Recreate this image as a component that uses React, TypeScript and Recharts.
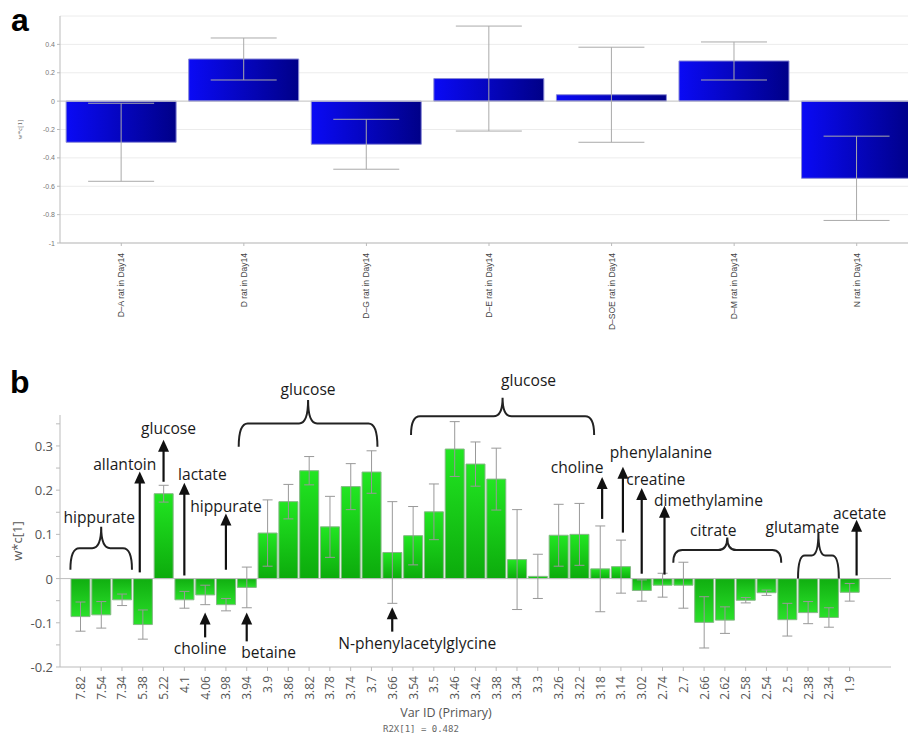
import React from 'react';
import { BarChart, Bar, XAxis, YAxis, CartesianGrid, ReferenceLine, ReferenceDot, ErrorBar, Cell } from 'recharts';

// panel a: group loadings
const groups = ['D–A rat in Day14', 'D rat in Day14', 'D–G rat in Day14', 'D–E rat in Day14', 'D–SOE rat in Day14', 'D–M rat in Day14', 'N rat in Day14'];
const groupLoading = [-0.29, 0.297, -0.304, 0.159, 0.045, 0.283, -0.544];
const groupError = [0.275, 0.148, 0.176, 0.37, 0.335, 0.134, 0.297];
const aTicks = [-1, -0.8, -0.6, -0.4, -0.2, 0, 0.2, 0.4];

// panel b: spectral bins
const shifts = ['7.82', '7.54', '7.34', '5.38', '5.22', '4.1', '4.06', '3.98', '3.94', '3.9', '3.86', '3.82', '3.78', '3.74', '3.7', '3.66', '3.54', '3.5', '3.46', '3.42', '3.38', '3.34', '3.3', '3.26', '3.22', '3.18', '3.14', '3.02', '2.74', '2.7', '2.66', '2.62', '2.58', '2.54', '2.5', '2.38', '2.34', '1.9'];
const loading = [-0.086, -0.082, -0.048, -0.104, 0.192, -0.048, -0.037, -0.059, -0.02, 0.103, 0.174, 0.244, 0.117, 0.208, 0.241, 0.059, 0.097, 0.151, 0.293, 0.259, 0.225, 0.043, 0.005, 0.098, 0.1, 0.022, 0.027, -0.027, -0.015, -0.015, -0.099, -0.094, -0.049, -0.032, -0.093, -0.077, -0.088, -0.031];
const loadingError = [0.033, 0.03, 0.013, 0.033, 0.019, 0.019, 0.022, 0.014, 0.046, 0.075, 0.039, 0.032, 0.069, 0.052, 0.048, 0.115, 0.066, 0.063, 0.062, 0.05, 0.07, 0.113, 0.05, 0.07, 0.07, 0.097, 0.06, 0.024, 0.027, 0.052, 0.058, 0.03, 0.006, 0.006, 0.037, 0.025, 0.022, 0.02];
const bTicks = [-0.2, -0.15, -0.1, -0.05, 0, 0.05, 0.1, 0.15, 0.2, 0.25, 0.3, 0.35];

// arrow annotations
const arrowAt = ['5.38', '5.22', '4.1', '3.98', '4.06', '3.94', '3.66', '3.18', '3.14', '3.02', '2.74', '1.9'];
const arrowBase = [0.014, 0.219, 0.007, 0.02, -0.133, -0.142, -0.12, 0.135, 0.104, 0.011, 0.009, 0.007];
const arrowTip = [0.242, 0.314, 0.217, 0.147, -0.077, -0.077, -0.065, 0.23, 0.253, 0.205, 0.165, 0.133];
const arrowNudge = [-3, 0, 0, 0, 0, 0, 0, 2, 2, 0, 2, 7];
const arrowLabel = ['allantoin', 'glucose', 'lactate', 'hippurate', 'choline', 'betaine', 'N-phenylacetylglycine', 'choline', 'phenylalanine', 'creatine', 'dimethylamine', 'acetate'];
const arrowLabelY = [0.26, 0.341, 0.237, 0.165, -0.156, -0.165, -0.145, 0.253, 0.286, 0.225, 0.177, 0.149];
const arrowLabelDx = [-18, 5, 18, 0, -5, 22, 25, -23, 40, 14, 46, 10];

// brace annotations
const braceFrom = ['7.82', '3.94', '3.54', '2.7', '2.38'];
const braceTo = ['7.34', '3.7', '3.18', '2.5', '2.34'];
const braceEnd = [0.02, 0.298, 0.325, 0.036, 0];
const braceTip = [0.117, 0.404, 0.409, 0.093, 0.104];
const bracePadL = [10, 8, 2, 10, 10];
const bracePadR = [10, 6, -6, -6, 10];
const braceLabel = ['hippurate', 'glucose', 'glucose', 'citrate', 'glutamate'];
const braceLabelY = [0.14, 0.429, 0.449, 0.111, 0.117];
const braceLabelDx = [-2, 0, 26, -14, -16];

const aRows = groups.map((g, i) => ({ group: g, w: groupLoading[i], err: groupError[i] }));
const bRows = shifts.map((s, i) => ({ shift: s, w: loading[i], err: loadingError[i] }));

const SANS = '"Open Sans", "Noto Sans", sans-serif';
const ARIAL = '"Liberation Sans", Arial, sans-serif';

const ATickY = ({ x, y, payload }: any) => (
  <text x={x} y={y} textAnchor="end" dominantBaseline="central" fontSize={7} fill="#777" fontFamily={ARIAL}>
    {String(payload.value)}
  </text>
);

const ATickX = ({ x, y, payload }: any) => (
  <text x={x} y={y + 5} transform={`rotate(-90, ${x}, ${y + 5})`} textAnchor="end" dominantBaseline="central" fontSize={8.5} fill="#444" fontFamily={ARIAL}>
    {payload.value}
  </text>
);

const BTickY = ({ x, y, payload }: any) => {
  const v = payload.value;
  if (Math.abs(Math.round(v * 10) - v * 10) > 1e-6) return null;
  return (
    <text x={x - 1} y={y} textAnchor="end" dominantBaseline="central" fontSize={13} fill="#555" fontFamily={SANS}>
      {v === 0 ? '0' : v.toFixed(1)}
    </text>
  );
};

const BTickX = ({ x, y, payload }: any) => (
  <text x={x} y={y + 3} transform={`rotate(-90, ${x}, ${y + 3})`} textAnchor="end" dominantBaseline="central" fontSize={12} fill="#555" fontFamily={SANS}>
    {payload.value}
  </text>
);

const arrowShape = (nudge: number) => (p: any) => {
  const x = p.x1 + nudge;
  const base = p.y1;
  const tip = p.y2;
  return (
    <g>
      <line x1={x} y1={base} x2={x} y2={tip + 10} stroke="#111" strokeWidth={2.2} />
      <polygon points={`${x},${tip} ${x - 5.5},${tip + 12} ${x + 5.5},${tip + 12}`} fill="#111" />
    </g>
  );
};

const braceShape = (padL: number, padR: number) => (p: any) => {
  const L = p.x1 - padL;
  const R = p.x2 + padR;
  const B = p.y1;
  const T = p.y2;
  const M = (B + T) / 2;
  const c = (L + R) / 2;
  const r = Math.min(9, (B - T) / 2, (R - L) / 6);
  const d = `M${L},${B} Q${L},${M} ${L + r},${M} L${c - r},${M} Q${c},${M} ${c},${T} Q${c},${M} ${c + r},${M} L${R - r},${M} Q${R},${M} ${R},${B}`;
  return <path d={d} fill="none" stroke="#222" strokeWidth={2} />;
};

const textShape = (label: string, dx: number) => (p: any) => (
  <text x={p.cx + dx} y={p.cy} textAnchor="middle" dominantBaseline="central" fontSize={15.6} fill="#1a1a1a" fontFamily={SANS}>
    {label}
  </text>
);

export default function App() {
  return (
    <div style={{ position: 'relative', width: 908, height: 735, overflow: 'hidden', background: '#fff' }}>
      <style>{'body{margin:0}'}</style>

      {/* a */}
      <div style={{ position: 'absolute', left: 0, top: 0 }}>
        <BarChart width={930} height={330} data={aRows} margin={{ top: 16, right: 12, left: 0, bottom: 0 }} barCategoryGap="5%">
          <defs>
            <linearGradient id="gBlue" x1="0" y1="0" x2="1" y2="0">
              <stop offset="0%" stopColor="#0a0af5" />
              <stop offset="100%" stopColor="#000088" />
            </linearGradient>
          </defs>
          <CartesianGrid vertical={false} stroke="#ececec" />
          <XAxis dataKey="group" interval={0} height={87} tickSize={3} tick={<ATickX />} axisLine={{ stroke: '#bbb' }} tickLine={{ stroke: '#bbb' }} />
          <YAxis width={60} domain={[-1, 0.6]} ticks={aTicks} interval={0} tickSize={3} tick={<ATickY />} axisLine={{ stroke: '#bbb' }} tickLine={{ stroke: '#bbb' }}
            label={{ value: 'w*c[1]', angle: -90, position: 'insideLeft', offset: 20, fontSize: 7, fill: '#666', style: { textAnchor: 'middle' } }} />
          <ReferenceLine y={0} stroke="#c8c8c8" />
          <Bar dataKey="w" fill="url(#gBlue)" stroke="#8a8ad6" strokeWidth={1} isAnimationActive={false}>
            <ErrorBar dataKey="err" width={33} stroke="#aaa" strokeWidth={1} direction="y" isAnimationActive={false} />
          </Bar>
        </BarChart>
      </div>

      {/* b */}
      <div style={{ position: 'absolute', left: 0, top: 350 }}>
        <BarChart width={908} height={385} data={bRows} margin={{ top: 65, right: 17, left: 0, bottom: 0 }} barCategoryGap={1}>
          <defs>
            <linearGradient id="gPos" x1="0" y1="0" x2="0" y2="1">
              <stop offset="0%" stopColor="#22e622" />
              <stop offset="100%" stopColor="#0cab0c" />
            </linearGradient>
            <linearGradient id="gNeg" x1="0" y1="0" x2="0" y2="1">
              <stop offset="0%" stopColor="#10ae10" />
              <stop offset="100%" stopColor="#2ae02a" />
            </linearGradient>
          </defs>
          <XAxis dataKey="shift" interval={0} height={68} tickSize={4} padding={{ left: 10, right: 31 }} tick={<BTickX />} axisLine={{ stroke: '#bbb' }} tickLine={{ stroke: '#bbb' }} />
          <YAxis width={60} domain={[-0.2, 0.37]} ticks={bTicks} interval={0} tickSize={4} tick={<BTickY />} axisLine={{ stroke: '#bbb' }} tickLine={{ stroke: '#bbb' }}
            label={{ value: 'w*c[1]', angle: -90, position: 'insideLeft', offset: 17, fontSize: 13, fill: '#555', fontFamily: SANS, style: { textAnchor: 'middle' } }} />
          <ReferenceLine y={0} stroke="#bdbdbd" />
          <Bar dataKey="w" stroke="#86b886" strokeWidth={1} isAnimationActive={false}>
            {bRows.map((r, i) => (
              <Cell key={i} fill={r.w >= 0 ? 'url(#gPos)' : 'url(#gNeg)'} />
            ))}
            <ErrorBar dataKey="err" width={5} stroke="#999" strokeWidth={1} direction="y" isAnimationActive={false} />
          </Bar>
          {arrowAt.map((c, i) => (
            <ReferenceLine key={`ar${i}`} ifOverflow="visible" segment={[{ x: c, y: arrowBase[i] }, { x: c, y: arrowTip[i] }]} shape={arrowShape(arrowNudge[i])} />
          ))}
          {arrowAt.map((c, i) => (
            <ReferenceDot key={`at${i}`} x={c} y={arrowLabelY[i]} r={0} ifOverflow="visible" shape={textShape(arrowLabel[i], arrowLabelDx[i])} />
          ))}
          {braceFrom.map((c, i) => (
            <ReferenceLine key={`br${i}`} ifOverflow="visible" segment={[{ x: c, y: braceEnd[i] }, { x: braceTo[i], y: braceTip[i] }]} shape={braceShape(bracePadL[i], bracePadR[i])} />
          ))}
          {braceFrom.map((c, i) => (
            <ReferenceDot key={`bt${i}`} x={c} y={braceLabelY[i]} r={0} ifOverflow="visible"
              shape={(p: any) => {
                const fromIdx = shifts.indexOf(c);
                const toIdx = shifts.indexOf(braceTo[i]);
                const band = 20.79;
                const mid = p.cx + ((toIdx - fromIdx) * band + bracePadR[i] - bracePadL[i]) / 2;
                return textShape(braceLabel[i], braceLabelDx[i])({ cx: mid, cy: p.cy });
              }} />
          ))}
        </BarChart>
      </div>

      <svg width={908} height={735} style={{ position: 'absolute', left: 0, top: 0, pointerEvents: 'none' }}>
        <text x={11} y={31} fontSize={32} fontWeight="bold" fill="#000" fontFamily={ARIAL}>a</text>
        <text x={10} y={393} fontSize={32} fontWeight="bold" fill="#000" fontFamily={ARIAL}>b</text>
        <text x={446} y={717} textAnchor="middle" fontSize={12.5} fill="#555" fontFamily={SANS}>Var ID (Primary)</text>
        <text x={383} y={732} fontSize={9} fill="#666" fontFamily='"DejaVu Sans Mono", "Liberation Mono", monospace'>R2X[1] = 0.482</text>
      </svg>
    </div>
  );
}
